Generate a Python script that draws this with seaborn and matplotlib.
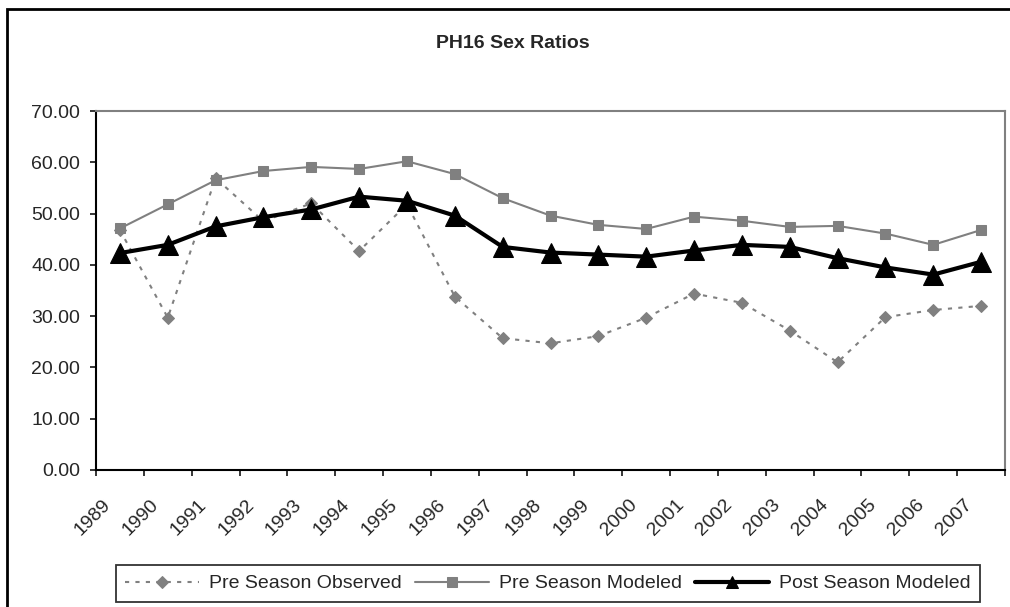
import numpy as np
import pandas as pd
import matplotlib
matplotlib.use('Agg')
import matplotlib.pyplot as plt
import matplotlib.transforms as mtrans
from matplotlib.patches import Rectangle
from matplotlib.legend_handler import HandlerLine2D
import seaborn as sns

# Data
years = list(range(1989, 2008))
pre_observed = [46.8, 29.7, 56.9, 48.5, 52.0, 42.7, 51.8, 33.8, 25.7, 24.7,
                26.1, 29.7, 34.4, 32.6, 27.2, 21.0, 29.8, 31.2, 32.0]
pre_modeled = [47.1, 51.8, 56.5, 58.3, 59.1, 58.7, 60.2, 57.7, 53.0, 49.6,
               47.8, 47.0, 49.4, 48.6, 47.4, 47.6, 46.1, 43.9, 46.8]
post_modeled = [42.3, 43.9, 47.5, 49.3, 50.8, 53.3, 52.5, 49.6, 43.5, 42.4,
                42.0, 41.6, 42.8, 43.9, 43.5, 41.3, 39.5, 38.1, 40.6]
series_names = ['Pre Season Observed', 'Pre Season Modeled', 'Post Season Modeled']
y_ticks = [0, 10, 20, 30, 40, 50, 60, 70]

df = pd.DataFrame({'year': years,
                   series_names[0]: pre_observed,
                   series_names[1]: pre_modeled,
                   series_names[2]: post_modeled})

sns.set_style('white')
plt.rcParams['font.family'] = ['Liberation Sans', 'DejaVu Sans']
plt.rcParams['font.size'] = 14

fig = plt.figure(figsize=(10.1, 6.07), dpi=100)
ax = fig.add_axes([96 / 1010, 137 / 607, 909 / 1010, 359 / 607])

gray = '#808080'
sns.lineplot(data=df, x='year', y=series_names[0], ax=ax, color=gray,
             lw=1.5, dashes=False, marker='D', markersize=6.5,
             markeredgecolor=gray, label=series_names[0], zorder=2)
ax.lines[-1].set_dashes((2, 3))
sns.lineplot(data=df, x='year', y=series_names[1], ax=ax, color=gray,
             lw=1.5, marker='s', markersize=7.2, markeredgecolor=gray,
             label=series_names[1], zorder=3)
sns.lineplot(data=df, x='year', y=series_names[2], ax=ax, color='black',
             lw=3, marker='^', markersize=14, markeredgecolor='black',
             label=series_names[2], zorder=4)
post_line = ax.lines[-1]

ax.set_xlim(years[0] - 0.5, years[-1] + 0.5)
ax.set_ylim(y_ticks[0], y_ticks[-1])
ax.set_yticks(y_ticks)
ax.set_yticklabels([f'{v:.2f}' for v in y_ticks])
ax.set_xticks(years)
ax.set_xticklabels([str(y) for y in years])
ax.set_xticks(np.arange(years[0] - 0.5, years[-1] + 1), minor=True)
ax.set_xlabel('')
ax.set_ylabel('')

ax.tick_params(axis='y', direction='out', length=4.5, width=1.3, pad=7,
               left=True, labelsize=14)
ax.tick_params(axis='x', which='major', length=0, pad=19, labelsize=14)
ax.tick_params(axis='x', which='minor', direction='out', length=4.5,
               width=1.3, bottom=True)

off = mtrans.ScaledTranslation(-18 / 100, 0, fig.dpi_scale_trans)
for lab in ax.get_xticklabels():
    lab.set_rotation(45)
    lab.set_ha('right')
    lab.set_va('top')
    lab.set_rotation_mode('anchor')
    lab.set_transform(lab.get_transform() + off)

for side in ['left', 'bottom']:
    ax.spines[side].set_color('black')
    ax.spines[side].set_linewidth(1.5)
for side in ['top', 'right']:
    ax.spines[side].set_color(gray)
    ax.spines[side].set_linewidth(1.5)

fig.text(0.508, 1 - 43 / 607, 'PH16 Sex Ratios', ha='center', va='center',
         fontsize=14, fontweight='bold')


def small_marker(leg_handle, orig):
    leg_handle.update_from(orig)
    leg_handle.set_markersize(9)


handles, labels = ax.get_legend_handles_labels()
leg = ax.legend(handles, labels, loc='center',
                bbox_to_anchor=(548 / 1010, 23.5 / 607),
                bbox_transform=fig.transFigure, ncol=3, frameon=True,
                fancybox=False, edgecolor='black', handlelength=3.8,
                handletextpad=0.5, columnspacing=0.7, borderpad=0.5,
                fontsize=14,
                handler_map={handles[2]: HandlerLine2D(update_func=small_marker)})
leg.get_frame().set_linewidth(1.3)

fig.patches.append(Rectangle((7 / 1010, -0.05), 1.2, 1 - 9 / 607 + 0.05,
                             transform=fig.transFigure, fill=False,
                             edgecolor='black', lw=2, zorder=0))

fig.savefig('out.png', dpi=100)
